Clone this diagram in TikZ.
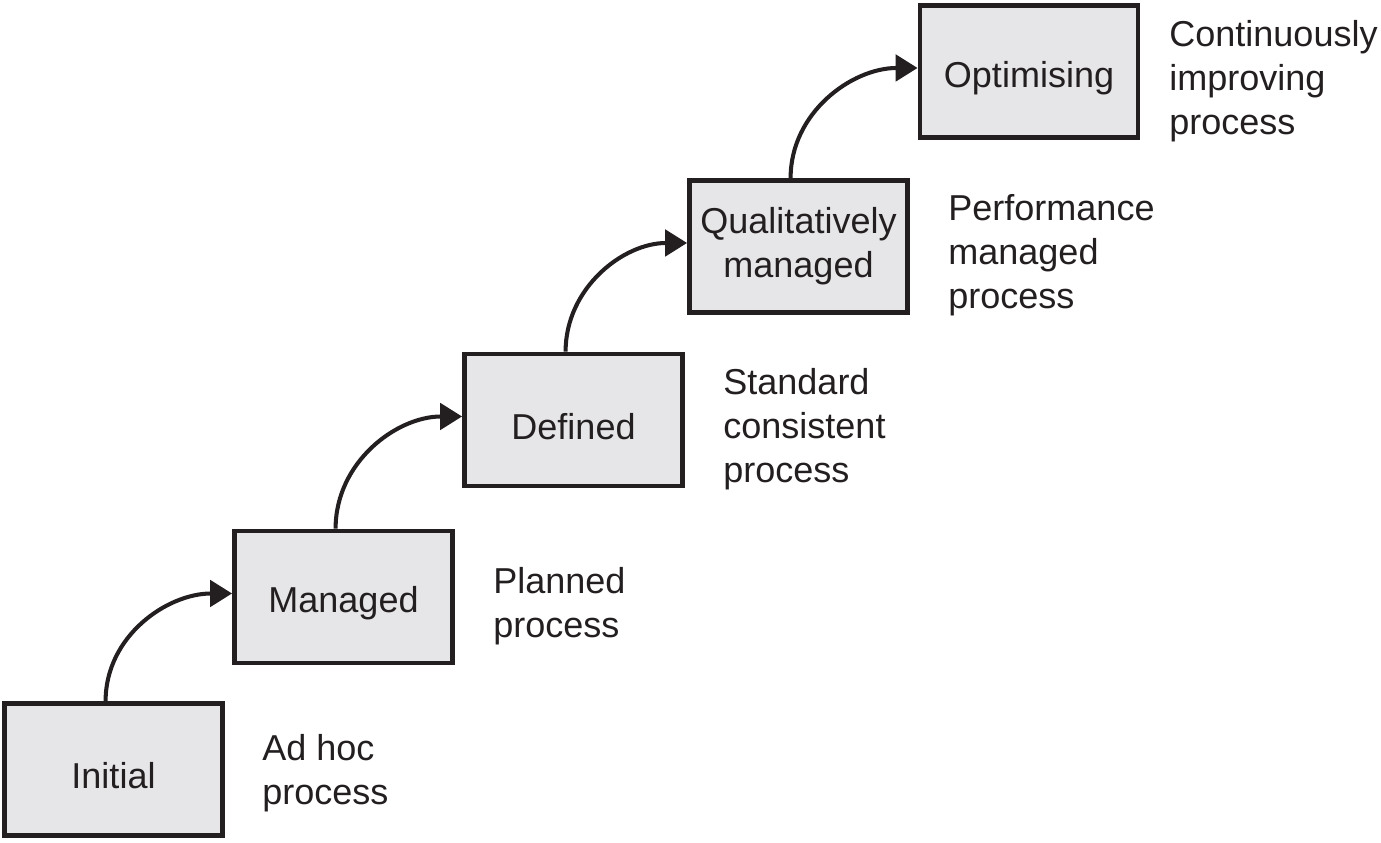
\documentclass[tikz,border=0pt]{standalone}
\usepackage{fontspec}
\setmainfont{Liberation Sans}
\usetikzlibrary{arrows.meta}
\definecolor{boxgray}{RGB}{230,230,232}
\definecolor{ink}{RGB}{35,31,32}
\tikzset{
  level/.style={draw=ink, line width=2.8pt, fill=boxgray, minimum width=4.36cm,
    minimum height=2.64cm, align=center, text=ink, text height=22pt},
  note/.style={anchor=west, align=left, inner xsep=0pt, text=ink},
  climb/.style={draw=ink, line width=2.3pt, -{Triangle[length=12.5pt,width=15pt]}},
}
\begin{document}
\begin{tikzpicture}[x=0.02cm, y=0.02cm, font=\fontsize{20.5}{25}\selectfont]
  \useasboundingbox (0,0) rectangle (1381,842);
  % maturity levels
  \node[level] (ini) at (113.5,72.5) {Initial};
  \node[level] (man) at (343.5,245) {Managed};
  \node[level] (def) at (573.5,422) {Defined};
  \node[level, text height=] (qual) at (798.5,595.5) {Qualitatively\\managed};
  \node[level] (opt) at (1029,770.5) {Optimising};
  % descriptions
  \node[note] (adhoc) at (262,69) {Ad hoc\\process};
  \node[note] (plan) at (493,236) {Planned\\process};
  \node[note] (std) at (723,413) {Standard\\consistent\\process};
  \node[note] (perf) at (948,586.5) {Performance\\managed\\process};
  \node[note] (cont) at (1169,761) {Continuously\\improving\\process};
  % steps up
  \draw[climb] ([xshift=-4.5pt]ini.north) to[out=90, in=180] ([yshift=2pt]man.west);
  \draw[climb] ([xshift=-4.5pt]man.north) to[out=90, in=180] ([yshift=2pt]def.west);
  \draw[climb] ([xshift=-4.5pt]def.north) to[out=90, in=180] ([yshift=2pt]qual.west);
  \draw[climb] ([xshift=-4.5pt]qual.north) to[out=90, in=180] ([yshift=2pt]opt.west);
\end{tikzpicture}
\end{document}
